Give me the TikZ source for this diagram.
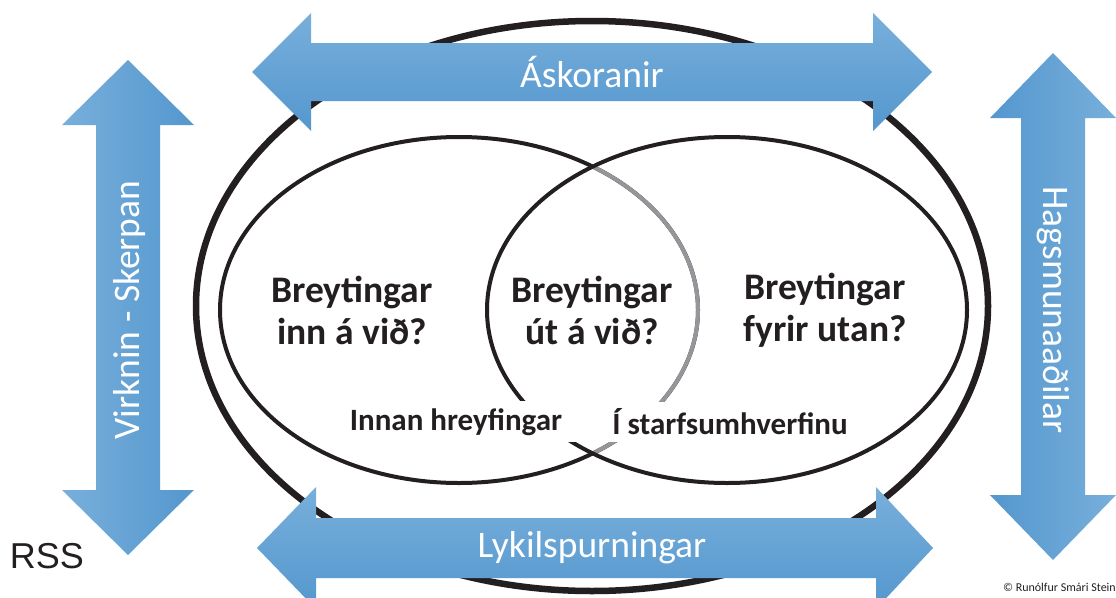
\documentclass[tikz,border=0pt]{standalone}
\usepackage{fontspec}
\setmainfont{Carlito}
\newfontfamily\arialfont{Liberation Sans}
\definecolor{ink}{RGB}{35,31,32}
\definecolor{vgray}{RGB}{150,150,154}
\definecolor{arrlight}{RGB}{120,175,219}
\definecolor{arrdark}{RGB}{84,151,206}
\begin{document}
\begin{tikzpicture}[x=1pt,y=-1pt,
  ring/.style={line width=6.5pt, draw=ink},
  venn/.style={line width=4pt, draw=ink},
  vennpart/.style={line width=4pt, draw=vgray},
  qtext/.style={font=\bfseries\fontsize{37.5}{42}\selectfont, align=center, text=ink},
  sublabel/.style={font=\bfseries\fontsize{31}{34}\selectfont, text=ink, fill=white, inner xsep=6pt, inner ysep=7pt},
  arrowlabel/.style={font=\fontsize{37.5}{42}\selectfont, text=white},
  harrowfill/.style={top color=arrlight, bottom color=arrdark},
  larrowfill/.style={left color=arrlight, right color=arrdark},
  rarrowfill/.style={left color=arrdark, right color=arrlight}]
\useasboundingbox (0,0) rectangle (1116,597);
\fill[white] (0,0) rectangle (1116,597);

% ellipses
\coordinate (oc) at (592,306);
\coordinate (lc) at (459,310);
\coordinate (rc) at (727,310);
\draw[ring] (oc) ellipse[x radius=396, y radius=285];
\draw[venn] (lc) ellipse[x radius=239, y radius=173];
\draw[vennpart] ([shift={(-56:239 and 173)}]lc) arc[start angle=-56, end angle=56, x radius=239, y radius=173];
\draw[venn] (rc) ellipse[x radius=240, y radius=173];

% texts in circles
\node[qtext] (inn) at (352,310) {Breytingar\\inn á við?};
\node[qtext] (ut) at (592,310) {Breytingar\\út á við?};
\node[qtext] (fyrir) at (825,310) {Breytingar\\fyrir utan?};
\node[sublabel] (innan) at (456,422) {Innan hreyfingar};
\node[sublabel] (starf) at (730,422) {Í starfsumhverfinu};
\fill[white] (innan.north east) rectangle (starf.south west);

% arrows
\shade[harrowfill] (252,72) -- (311,13) -- (311,43) -- (873,43) -- (873,13) -- (932,72)
  -- (873,131) -- (873,101) -- (311,101) -- (311,131) -- cycle;
\shade[harrowfill] (257,548) -- (316,487) -- (316,518) -- (876,518) -- (876,487) -- (933,548)
  -- (876,609) -- (876,578) -- (316,578) -- (316,609) -- cycle;
\shade[larrowfill] (128,60) -- (194,125) -- (160,125) -- (160,490) -- (194,490) -- (128,555)
  -- (62,490) -- (96,490) -- (96,125) -- (62,125) -- cycle;
\shade[rarrowfill] (1053,53) -- (1116,118) -- (1085,118) -- (1085,495) -- (1116,495) -- (1053,560)
  -- (990,495) -- (1021,495) -- (1021,118) -- (990,118) -- cycle;

\node[arrowlabel] (askor) at (592,72) {Áskoranir};
\node[arrowlabel] (lykil) at (592,548) {Lykilspurningar};
\node[arrowlabel, rotate=90] (virk) at (130,310) {Virknin - Skerpan};
\node[arrowlabel, rotate=-90] (hags) at (1053,310) {Hagsmunaaðilar};

\node[font=\arialfont\fontsize{36}{40}\selectfont, text=ink] (rss) at (47,556) {RSS};
\node[font=\fontsize{12}{13}\selectfont, text=ink, anchor=base east, inner sep=0pt] (copy) at (1116,591) {© Runólfur Smári Stein};
\end{tikzpicture}
\end{document}
